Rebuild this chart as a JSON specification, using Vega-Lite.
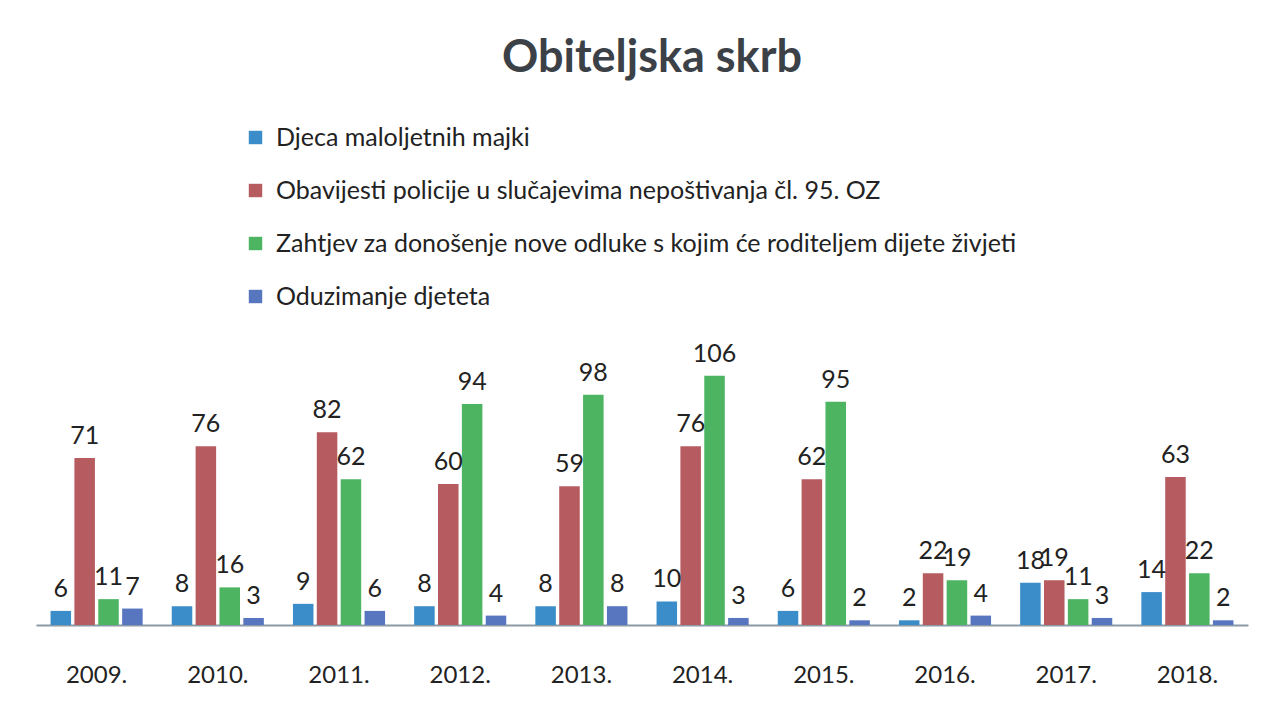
{
  "$schema": "https://vega.github.io/schema/vega-lite/v6.json",
  "autosize": "none",
  "width": 1212,
  "height": 295,
  "padding": {"left": 36, "top": 330, "right": 33, "bottom": 90},
  "background": "white",
  "config": {"view": {"stroke": null}, "font": "Lato"},
  "title": {
    "text": "Obiteljska skrb",
    "font": "Lato",
    "fontSize": 45,
    "fontWeight": "bold",
    "color": "#3b4147",
    "anchor": "middle",
    "offset": 44,
    "dx": 10
  },
  "data": {
    "values": [
      {"year": "2009.", "cat": "Djeca maloljetnih  majki", "v": 6},
      {"year": "2009.", "cat": "Obavijesti policije u slučajevima nepoštivanja čl. 95. OZ", "v": 71},
      {"year": "2009.", "cat": "Zahtjev za donošenje nove odluke s kojim će roditeljem dijete živjeti", "v": 11},
      {"year": "2009.", "cat": "Oduzimanje djeteta", "v": 7},
      {"year": "2010.", "cat": "Djeca maloljetnih  majki", "v": 8},
      {"year": "2010.", "cat": "Obavijesti policije u slučajevima nepoštivanja čl. 95. OZ", "v": 76},
      {"year": "2010.", "cat": "Zahtjev za donošenje nove odluke s kojim će roditeljem dijete živjeti", "v": 16},
      {"year": "2010.", "cat": "Oduzimanje djeteta", "v": 3},
      {"year": "2011.", "cat": "Djeca maloljetnih  majki", "v": 9},
      {"year": "2011.", "cat": "Obavijesti policije u slučajevima nepoštivanja čl. 95. OZ", "v": 82},
      {"year": "2011.", "cat": "Zahtjev za donošenje nove odluke s kojim će roditeljem dijete živjeti", "v": 62},
      {"year": "2011.", "cat": "Oduzimanje djeteta", "v": 6},
      {"year": "2012.", "cat": "Djeca maloljetnih  majki", "v": 8},
      {"year": "2012.", "cat": "Obavijesti policije u slučajevima nepoštivanja čl. 95. OZ", "v": 60},
      {"year": "2012.", "cat": "Zahtjev za donošenje nove odluke s kojim će roditeljem dijete živjeti", "v": 94},
      {"year": "2012.", "cat": "Oduzimanje djeteta", "v": 4},
      {"year": "2013.", "cat": "Djeca maloljetnih  majki", "v": 8},
      {"year": "2013.", "cat": "Obavijesti policije u slučajevima nepoštivanja čl. 95. OZ", "v": 59},
      {"year": "2013.", "cat": "Zahtjev za donošenje nove odluke s kojim će roditeljem dijete živjeti", "v": 98},
      {"year": "2013.", "cat": "Oduzimanje djeteta", "v": 8},
      {"year": "2014.", "cat": "Djeca maloljetnih  majki", "v": 10},
      {"year": "2014.", "cat": "Obavijesti policije u slučajevima nepoštivanja čl. 95. OZ", "v": 76},
      {"year": "2014.", "cat": "Zahtjev za donošenje nove odluke s kojim će roditeljem dijete živjeti", "v": 106},
      {"year": "2014.", "cat": "Oduzimanje djeteta", "v": 3},
      {"year": "2015.", "cat": "Djeca maloljetnih  majki", "v": 6},
      {"year": "2015.", "cat": "Obavijesti policije u slučajevima nepoštivanja čl. 95. OZ", "v": 62},
      {"year": "2015.", "cat": "Zahtjev za donošenje nove odluke s kojim će roditeljem dijete živjeti", "v": 95},
      {"year": "2015.", "cat": "Oduzimanje djeteta", "v": 2},
      {"year": "2016.", "cat": "Djeca maloljetnih  majki", "v": 2},
      {"year": "2016.", "cat": "Obavijesti policije u slučajevima nepoštivanja čl. 95. OZ", "v": 22},
      {"year": "2016.", "cat": "Zahtjev za donošenje nove odluke s kojim će roditeljem dijete živjeti", "v": 19},
      {"year": "2016.", "cat": "Oduzimanje djeteta", "v": 4},
      {"year": "2017.", "cat": "Djeca maloljetnih  majki", "v": 18},
      {"year": "2017.", "cat": "Obavijesti policije u slučajevima nepoštivanja čl. 95. OZ", "v": 19},
      {"year": "2017.", "cat": "Zahtjev za donošenje nove odluke s kojim će roditeljem dijete živjeti", "v": 11},
      {"year": "2017.", "cat": "Oduzimanje djeteta", "v": 3},
      {"year": "2018.", "cat": "Djeca maloljetnih  majki", "v": 14},
      {"year": "2018.", "cat": "Obavijesti policije u slučajevima nepoštivanja čl. 95. OZ", "v": 63},
      {"year": "2018.", "cat": "Zahtjev za donošenje nove odluke s kojim će roditeljem dijete živjeti", "v": 22},
      {"year": "2018.", "cat": "Oduzimanje djeteta", "v": 2}
    ]
  },
  "encoding": {
    "x": {
      "field": "year",
      "type": "nominal",
      "sort": null,
      "scale": {"paddingInner": 0.24, "paddingOuter": 0.12},
      "axis": {
        "title": null,
        "labelAngle": 0,
        "labelFont": "Lato",
        "labelFontSize": 24,
        "labelColor": "#222222",
        "labelPadding": 38,
        "ticks": false,
        "domainColor": "#8a9aa6",
        "domainWidth": 2
      }
    },
    "xOffset": {
      "field": "cat",
      "type": "nominal",
      "sort": null,
      "scale": {"paddingInner": 0.14, "paddingOuter": 0}
    },
    "y": {
      "field": "v",
      "type": "quantitative",
      "scale": {"domain": [0, 125.5], "nice": false},
      "axis": null
    }
  },
  "layer": [
    {
      "mark": {"type": "bar"},
      "encoding": {
        "color": {
          "field": "cat",
          "type": "nominal",
          "sort": null,
          "scale": {
            "domain": [
              "Djeca maloljetnih  majki",
              "Obavijesti policije u slučajevima nepoštivanja čl. 95. OZ",
              "Zahtjev za donošenje nove odluke s kojim će roditeljem dijete živjeti",
              "Oduzimanje djeteta"
            ],
            "range": ["#3b8dc9", "#b65c60", "#4db562", "#5875c0"]
          },
          "legend": {
            "title": null,
            "orient": "none",
            "legendX": 207,
            "legendY": -205,
            "direction": "vertical",
            "symbolType": "square",
            "symbolSize": 180,
            "symbolStrokeWidth": 0,
            "labelFont": "Lato",
            "labelFontSize": 25,
            "labelColor": "#222222",
            "labelLimit": 900,
            "rowPadding": 27,
            "labelOffset": 8
          }
        }
      }
    },
    {
      "mark": {
        "type": "text",
        "baseline": "bottom",
        "dy": -9,
        "font": "Lato",
        "fontSize": 25,
        "color": "#222222"
      },
      "encoding": {
        "text": {"field": "v", "type": "quantitative"}
      }
    }
  ]
}
